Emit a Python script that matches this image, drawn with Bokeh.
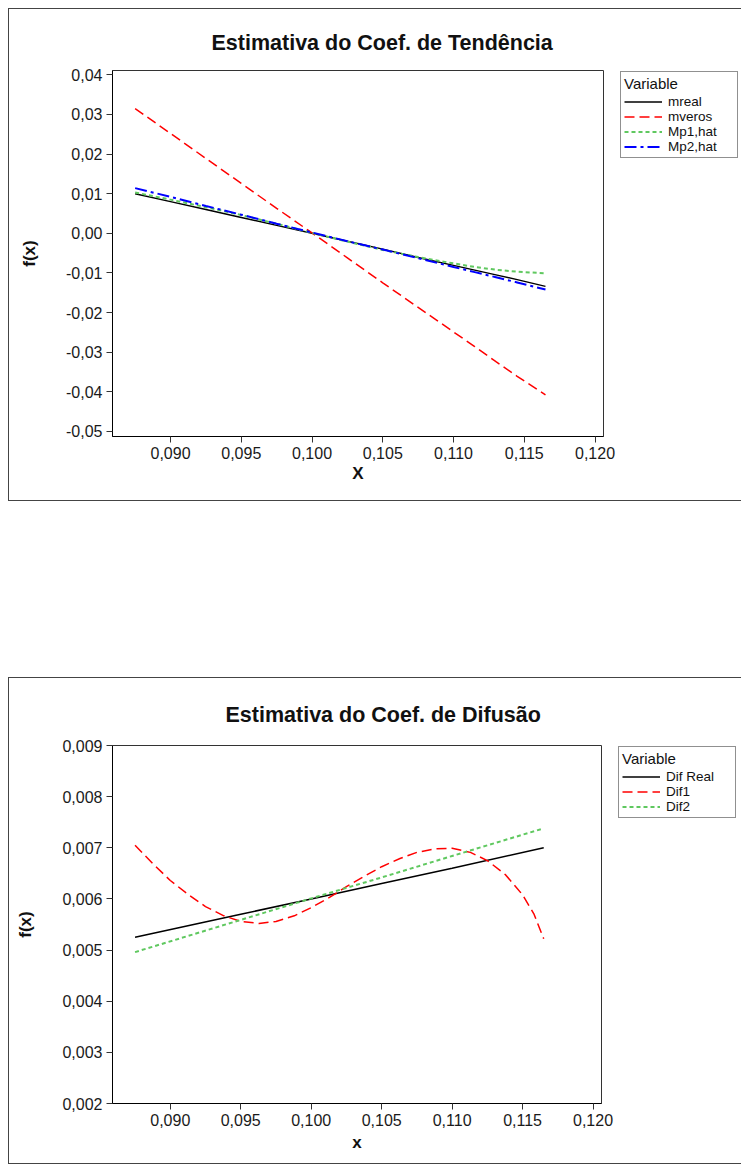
from bokeh.plotting import figure
from bokeh.models import (Legend, LegendItem, FixedTicker, CustomJSTickFormatter,
                          Range1d, Spacer)
from bokeh.layouts import column
from bokeh.embed import file_html
from bokeh.resources import INLINE

FONT = "Liberation Sans"

# ---------------- data: top chart ----------------
x_top = [0.0875, 0.090, 0.0925, 0.095, 0.0975, 0.100, 0.1025, 0.105, 0.1075,
         0.110, 0.1115, 0.113, 0.1145, 0.1165]
mreal = [0.0100, 0.0080, 0.0060, 0.0040, 0.0020, 0.0000, -0.0020, -0.0040,
         -0.0061, -0.0081, -0.0093, -0.0105, -0.0117, -0.0134]
mveros = [0.0315, 0.0252, 0.0189, 0.0126, 0.0063, 0.0001, -0.0062, -0.0125,
          -0.0187, -0.0249, -0.0286, -0.0324, -0.0361, -0.0408]
mp1_hat = [0.0103, 0.0085, 0.0066, 0.0046, 0.0024, 0.0001, -0.0021, -0.0042,
           -0.0060, -0.0076, -0.0085, -0.0092, -0.0097, -0.0101]
mp2_hat = [0.0114, 0.0092, 0.0069, 0.0047, 0.0024, 0.0002, -0.0020, -0.0041,
           -0.0063, -0.0085, -0.0098, -0.0111, -0.0124, -0.0142]
top_yticks = [0.04, 0.03, 0.02, 0.01, 0.0, -0.01, -0.02, -0.03, -0.04, -0.05]
xticks = [0.090, 0.095, 0.100, 0.105, 0.110, 0.115, 0.120]

# ---------------- data: bottom chart ----------------
x_lin = [0.0875, 0.095, 0.100, 0.105, 0.110, 0.1165]
dif_real = [0.00525, 0.00570, 0.00600, 0.00630, 0.00660, 0.00700]
dif2 = [0.00496, 0.00559, 0.00601, 0.00642, 0.00684, 0.00738]
x_dif1 = [0.0875, 0.0888, 0.090, 0.0913, 0.0925, 0.0938, 0.095, 0.0963, 0.0975,
          0.0988, 0.100, 0.1013, 0.1025, 0.1038, 0.105, 0.1063, 0.1075, 0.1088,
          0.110, 0.1113, 0.1125, 0.1138, 0.115, 0.1158, 0.1165]
dif1 = [0.00705, 0.00668, 0.00636, 0.00608, 0.00585, 0.00567, 0.00556, 0.00552,
        0.00556, 0.00567, 0.00583, 0.00603, 0.00624, 0.00645, 0.00663, 0.00679,
        0.00691, 0.00698, 0.00699, 0.00691, 0.00675, 0.00647, 0.00608, 0.00571,
        0.00522]
bot_yticks = [0.009, 0.008, 0.007, 0.006, 0.005, 0.004, 0.003, 0.002]


def fmt(decimals):
    return CustomJSTickFormatter(code="""
        var t = Math.abs(tick) < 1e-12 ? 0 : tick;
        return t.toFixed(%d).replace('.', ',');
    """ % decimals)


def make_fig(title, title_offset, title_standoff, xlabel, xstand, yrange, yticks,
             ydec, fw, fh, left, right, top, bottom):
    p = figure(frame_width=fw, frame_height=fh, output_backend="svg",
               toolbar_location=None, x_range=Range1d(0.0859, 0.1206),
               y_range=Range1d(*yrange), min_border_left=left,
               min_border_right=right, min_border_top=top,
               min_border_bottom=bottom,
               styles={"border": "1px solid #444"})
    p.grid.visible = False
    p.outline_line_color = "#333333"
    p.outline_line_width = 1
    p.background_fill_color = "white"
    p.border_fill_color = "white"

    p.title.text = title
    p.title.text_font = FONT
    p.title.text_font_size = "21.5px"
    p.title.text_font_style = "bold"
    p.title.align = "left"
    p.title.offset = title_offset
    p.title.standoff = title_standoff
    p.title.text_color = "#111111"

    for ax in (p.xaxis[0], p.yaxis[0]):
        ax.axis_line_color = "black"
        ax.axis_line_width = 1
        ax.major_tick_line_color = "#333333"
        ax.major_tick_out = 6
        ax.major_tick_in = 0
        ax.minor_tick_line_color = None
        ax.major_label_standoff = 4
        ax.major_label_text_font = FONT
        ax.major_label_text_font_size = "16px"
        ax.major_label_text_color = "#1a1a1a"
        ax.axis_label_text_font = FONT
        ax.axis_label_text_font_size = "17px"
        ax.axis_label_text_font_style = "bold"
        ax.axis_label_text_color = "#111111"

    p.xaxis.ticker = FixedTicker(ticks=xticks)
    p.xaxis.formatter = fmt(3)
    p.xaxis.axis_label = xlabel
    p.xaxis.axis_label_standoff = xstand

    p.yaxis.ticker = FixedTicker(ticks=yticks)
    p.yaxis.formatter = fmt(ydec)
    p.yaxis.axis_label = "f(x)"
    p.yaxis.axis_label_standoff = 24
    return p


def add_legend(p, items, loc):
    legend = Legend(items=items, title="Variable", location=loc, margin=0,
                    padding=3, spacing=0, label_height=15, glyph_height=15,
                    glyph_width=38, label_standoff=6, label_width=66,
                    label_text_font=FONT, label_text_font_size="13.5px",
                    label_text_color="#111111",
                    title_text_font=FONT, title_text_font_size="15px",
                    title_text_font_style="normal", title_text_color="#111111",
                    title_standoff=2, border_line_color="#222222",
                    border_line_width=1, background_fill_color="white",
                    background_fill_alpha=1.0)
    p.add_layout(legend, "right")


# ---------------- top figure ----------------
p1 = make_fig("Estimativa do Coef. de Tendência", 99, 32, "X", 2,
              (-0.0513, 0.0411), top_yticks, 2, 489, 364, 101, 141, 61, 66)
r1 = p1.line(x_top, mreal, line_color="black", line_width=1.5)
r2 = p1.line(x_top, mveros, line_color="#ff0000", line_width=1.5, line_dash="10 5")
r3 = p1.line(x_top, mp1_hat, line_color="#5fc85f", line_width=2, line_dash="4 3")
r4 = p1.line(x_top, mp2_hat, line_color="#0000ff", line_width=2, line_dash="12 4 3 4")
add_legend(p1, [LegendItem(label="mreal", renderers=[r1]),
                LegendItem(label="mveros", renderers=[r2]),
                LegendItem(label="Mp1,hat", renderers=[r3]),
                LegendItem(label="Mp2,hat", renderers=[r4])], (17, 278))

# ---------------- bottom figure ----------------
p2 = make_fig("Estimativa do Coef. de Difusão", 113, 38, "x", 4,
              (0.002, 0.009), bot_yticks, 3, 487, 356, 103, 141, 67, 62)
s1 = p2.line(x_lin, dif_real, line_color="black", line_width=1.5)
s2 = p2.line(x_dif1, dif1, line_color="#ff0000", line_width=1.5, line_dash="10 5")
s3 = p2.line(x_lin, dif2, line_color="#5fc85f", line_width=2, line_dash="4 3")
add_legend(p2, [LegendItem(label="Dif Real", renderers=[s1]),
                LegendItem(label="Dif1", renderers=[s2]),
                LegendItem(label="Dif2", renderers=[s3])], (17, 285))

layout = column(p1, Spacer(height=176), p2, margin=(8, 0, 0, 8))

with open("out.html", "w") as f:
    f.write(file_html(layout, INLINE))
